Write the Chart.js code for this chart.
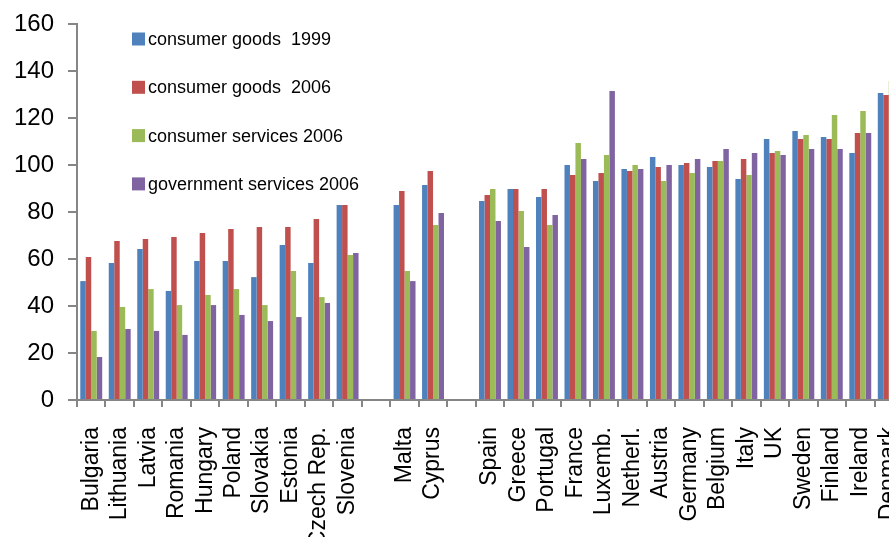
<!DOCTYPE html>
<html>
<head>
<meta charset="utf-8">
<script src="https://cdn.jsdelivr.net/npm/chart.js@4.4.1/dist/chart.umd.min.js"></script>
<style>
  html, body { margin: 0; padding: 0; background: #fff; overflow: hidden; }
  #wrap { width: 889px; height: 537px; overflow: hidden; position: relative; }
  canvas { display: block; }
</style>
</head>
<body>
<div id="wrap"><canvas id="c" width="903" height="537"></canvas></div>
<script>
// Price levels by country (EU = 100); empty names leave a gap between country groups
const countries = [
  'Bulgaria', 'Lithuania', 'Latvia', 'Romania', 'Hungary', 'Poland', 'Slovakia', 'Estonia', 'Czech Rep.', 'Slovenia',
  '',
  'Malta', 'Cyprus',
  '',
  'Spain', 'Greece', 'Portugal', 'France', 'Luxemb.', 'Netherl.', 'Austria', 'Germany', 'Belgium', 'Italy',
  'UK', 'Sweden', 'Finland', 'Ireland', 'Denmark'
];

const consumerGoods1999 = [
  50.6, 58.3, 64.3, 46.4, 59.1, 59.1, 52.3, 66.0, 58.3, 83.0,
  null,
  83.0, 91.5,
  null,
  84.7, 89.8, 86.4, 100.0, 93.2, 98.3, 103.4, 100.0, 99.1, 94.0,
  111.1, 114.5, 111.9, 105.1, 130.6
];

const consumerGoods2006 = [
  60.9, 67.7, 68.5, 69.4, 71.1, 72.8, 73.6, 73.6, 77.0, 83.0,
  null,
  88.9, 97.4,
  null,
  87.2, 89.8, 89.8, 95.7, 96.6, 97.4, 99.1, 100.9, 101.7, 102.6,
  105.1, 111.1, 111.1, 113.6, 129.8
];

const consumerServices2006 = [
  29.4, 39.6, 47.2, 40.4, 44.7, 47.2, 40.4, 54.9, 43.8, 61.7,
  null,
  54.9, 74.5,
  null,
  89.8, 80.4, 74.5, 109.4, 104.3, 100.0, 93.2, 96.6, 101.7, 95.7,
  106.0, 112.8, 121.3, 123.0, 135.7
];

const governmentServices2006 = [
  18.3, 30.2, 29.4, 27.7, 40.4, 36.2, 33.6, 35.3, 41.3, 62.6,
  null,
  50.6, 79.6,
  null,
  76.2, 65.1, 78.7, 102.6, 131.5, 98.3, 100.0, 102.6, 106.8, 105.1,
  104.3, 106.8, 106.8, 113.6, 128.0
];

const seriesNames = ['consumer goods  1999', 'consumer goods  2006', 'consumer services 2006', 'government services 2006'];
const seriesColors = ['#4F81BD', '#C0504D', '#9BBB59', '#8064A2'];
const yTicks = [0, 20, 40, 60, 80, 100, 120, 140, 160];

const FONT = '"Liberation Sans", Arial, sans-serif';
const AXIS_GREY = '#868686';

// Legend stacked inside the plot area, top left
const insideLegend = {
  id: 'insideLegend',
  afterDraw(chart) {
    const ctx = chart.ctx;
    ctx.save();
    ctx.font = '18px ' + FONT;
    ctx.textBaseline = 'middle';
    ctx.textAlign = 'left';
    chart.data.datasets.forEach((ds, i) => {
      const cy = 39 + i * 48.3;
      ctx.fillStyle = ds.backgroundColor;
      ctx.fillRect(132, cy - 6.5, 13, 13);
      ctx.fillStyle = '#000';
      ctx.fillText(ds.label, 148, cy + 1);
    });
    ctx.restore();
  }
};

const seriesData = [consumerGoods1999, consumerGoods2006, consumerServices2006, governmentServices2006];

new Chart(document.getElementById('c'), {
  type: 'bar',
  data: {
    labels: countries,
    datasets: seriesData.map((d, i) => ({
      label: seriesNames[i],
      data: d,
      backgroundColor: seriesColors[i],
      borderWidth: 0,
      categoryPercentage: 0.77,
      barPercentage: 1.0
    }))
  },
  options: {
    responsive: false,
    devicePixelRatio: 1,
    animation: false,
    layout: { padding: { top: 24, left: 0, right: 0, bottom: 0 } },
    plugins: {
      legend: { display: false },
      tooltip: { enabled: false }
    },
    scales: {
      x: {
        offset: true,
        grid: {
          display: true,
          offset: true,
          drawOnChartArea: false,
          drawTicks: true,
          tickLength: 7,
          color: AXIS_GREY,
          lineWidth: 2
        },
        border: { display: true, color: AXIS_GREY, width: 2 },
        ticks: {
          autoSkip: false,
          minRotation: 90,
          maxRotation: 90,
          padding: 20,
          color: '#000',
          font: { family: FONT, size: 23 }
        },
        afterFit(scale) {
          scale.height = 137;
          scale.paddingLeft = 0;
          scale.paddingRight = 0;
        }
      },
      y: {
        min: 0,
        max: 160,
        afterBuildTicks(scale) { scale.ticks = yTicks.map(v => ({ value: v })); },
        grid: {
          display: true,
          drawOnChartArea: false,
          drawTicks: true,
          tickLength: 9,
          color: AXIS_GREY,
          lineWidth: 2
        },
        border: { display: true, color: AXIS_GREY, width: 2 },
        ticks: {
          padding: 14,
          color: '#000',
          font: { family: FONT, size: 24 }
        },
        afterFit(scale) {
          scale.width = 77;
          scale.paddingTop = 0;
          scale.paddingBottom = 0;
        }
      }
    }
  },
  plugins: [insideLegend]
});
</script>
</body>
</html>
